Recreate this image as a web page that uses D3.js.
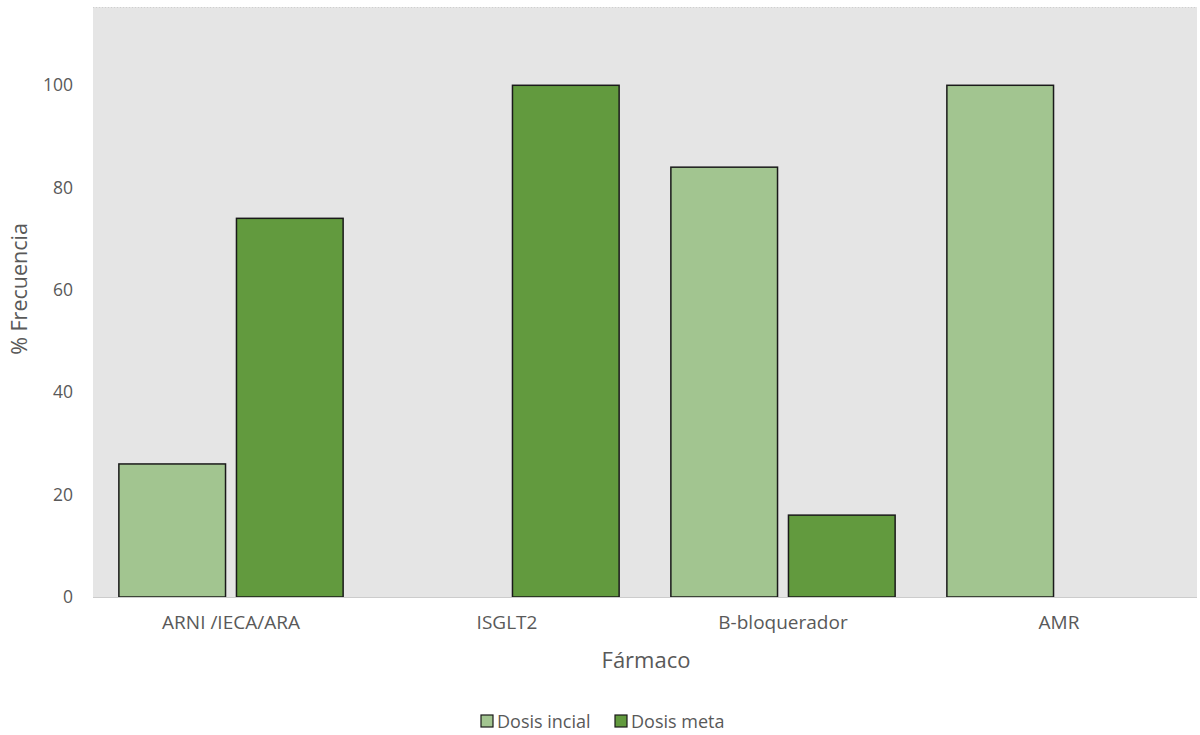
<!DOCTYPE html>
<html>
<head>
<meta charset="utf-8">
<script src="https://cdn.jsdelivr.net/npm/d3@7"></script>
<style>
  html, body { margin: 0; padding: 0; background: #ffffff; }
  svg { display: block; font-family: "Open Sans", "Noto Sans", sans-serif; }
</style>
</head>
<body>
<svg id="chart" width="1200" height="735"></svg>
<script>
// Chart data
const categories = ["ARNI /IECA/ARA", "ISGLT2", "B-bloquerador", "AMR"];
const seriesNames = ["Dosis incial", "Dosis meta"];
const dosisInicial = [26, 0, 84, 100];
const dosisMeta = [74, 100, 16, 0];
const yTicks = [0, 20, 40, 60, 80, 100];
const yMax = 115.3;

const colors = ["#a2c590", "#629a3e"];
const seriesValues = [dosisInicial, dosisMeta];
const textColor = "#595959";

const svg = d3.select("#chart");
const plot = { left: 93, right: 1197, top: 7, bottom: 597 };

const x = d3.scaleBand()
  .domain(categories)
  .range([plot.left, plot.right])
  .paddingInner(0)
  .paddingOuter(0);

const xInner = d3.scaleBand()
  .domain(seriesNames)
  .range([0, x.bandwidth()])
  .paddingInner(0.093)
  .paddingOuter(0.22);

const y = d3.scaleLinear()
  .domain([0, yMax])
  .range([plot.bottom, plot.top]);

// plot background
svg.append("rect")
  .attr("x", plot.left)
  .attr("y", plot.top)
  .attr("width", plot.right - plot.left)
  .attr("height", plot.bottom - plot.top)
  .attr("fill", "#e5e5e5");

// dotted top border
svg.append("line")
  .attr("x1", plot.left).attr("x2", plot.right)
  .attr("y1", plot.top + 0.5).attr("y2", plot.top + 0.5)
  .attr("stroke", "#cfcfcf")
  .attr("stroke-dasharray", "1,2");

// bars
const rows = [];
categories.forEach((c, i) => {
  seriesNames.forEach((s, j) => {
    rows.push({ cat: c, series: s, value: seriesValues[j][i], color: colors[j] });
  });
});

svg.append("g")
  .selectAll("rect")
  .data(rows.filter(d => d.value > 0))
  .join("rect")
  .attr("x", d => x(d.cat) + xInner(d.series))
  .attr("y", d => y(d.value))
  .attr("width", xInner.bandwidth())
  .attr("height", d => y(0) - y(d.value))
  .attr("fill", d => d.color)
  .attr("stroke", "#1a1a1a")
  .attr("stroke-width", 1.5);

// baseline
svg.append("line")
  .attr("x1", plot.left).attr("x2", plot.right)
  .attr("y1", plot.bottom + 0.5).attr("y2", plot.bottom + 0.5)
  .attr("stroke", "#cccccc")
  .attr("stroke-width", 1);

// y axis
const yAxis = d3.axisLeft(y).tickValues(yTicks).tickSize(0).tickPadding(0);
const gy = svg.append("g")
  .attr("transform", `translate(${73},0)`)
  .call(yAxis);
gy.select(".domain").remove();
gy.selectAll("text")
  .attr("fill", textColor)
  .style("font-size", "17.5px")
  .style("font-family", "'Open Sans', 'Noto Sans', sans-serif");

// x axis
const xAxis = d3.axisBottom(x).tickSize(0).tickPadding(0);
const gx = svg.append("g")
  .attr("transform", `translate(0,${615})`)
  .call(xAxis);
gx.select(".domain").remove();
gx.selectAll("text")
  .attr("fill", textColor)
  .style("font-size", "19px")
  .style("font-family", "'Open Sans', 'Noto Sans', sans-serif");

// axis titles
svg.append("text")
  .attr("transform", `translate(27,${289}) rotate(-90)`)
  .attr("text-anchor", "middle")
  .attr("fill", textColor)
  .style("font-size", "21.5px")
  .text("% Frecuencia");

svg.append("text")
  .attr("x", 646)
  .attr("y", 668)
  .attr("text-anchor", "middle")
  .attr("fill", textColor)
  .style("font-size", "22px")
  .text("Fármaco");

// legend
const legendItems = [
  { name: seriesNames[0], color: colors[0], x: 481 },
  { name: seriesNames[1], color: colors[1], x: 615 }
];
const lg = svg.append("g");
legendItems.forEach(item => {
  lg.append("rect")
    .attr("x", item.x)
    .attr("y", 715)
    .attr("width", 12)
    .attr("height", 12)
    .attr("fill", item.color)
    .attr("stroke", "#1a1a1a")
    .attr("stroke-width", 1.2);
  lg.append("text")
    .attr("x", item.x + 16)
    .attr("y", 728)
    .attr("fill", textColor)
    .style("font-size", "18px")
    .text(item.name);
});
</script>
</body>
</html>
